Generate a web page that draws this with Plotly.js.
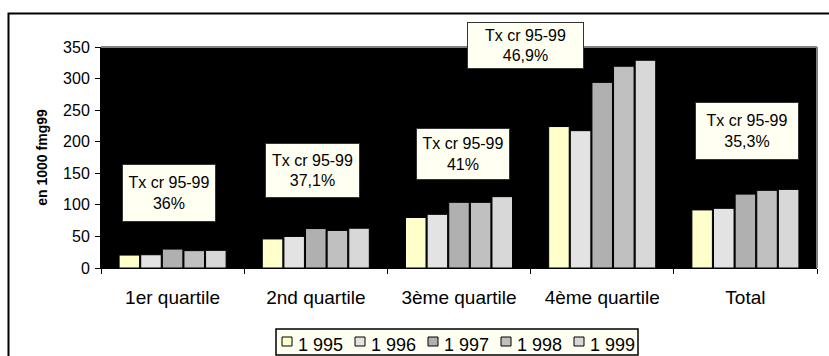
<!DOCTYPE html>
<html>
<head>
<meta charset="utf-8">
<script src="https://cdn.plot.ly/plotly-3.0.1.min.js"></script>
<style>
  html, body { margin: 0; padding: 0; background: #ffffff; }
  #chart { width: 829px; height: 356px; }
</style>
</head>
<body>
<div id="chart"></div>
<script>
// Income groups and yearly values (thousand fmg, 1999 prices)
const categories = ['1er quartile', '2nd quartile', '3ème quartile', '4ème quartile', 'Total'];
const years = ['1 995', '1 996', '1 997', '1 998', '1 999'];
const v1995 = [20.5, 46, 80, 224, 92];
const v1996 = [21, 50, 85, 217.5, 94.5];
const v1997 = [30, 62.5, 104, 294, 117];
const v1998 = [27.5, 59.5, 104, 319.5, 123];
const v1999 = [28, 63, 113, 329, 124.5];
const growth = ['36%', '37,1%', '41%', '46,9%', '35,3%'];
const yTicks = [0, 50, 100, 150, 200, 250, 300, 350];

const series = [v1995, v1996, v1997, v1998, v1999];
const fills = ['#FFFFCC', '#E3E3E3', '#B0B0B0', '#C0C0C0', '#D8D8D8'];
const FONT = 'Liberation Sans, Arial, Helvetica, sans-serif';

// Figure geometry (pixels)
const W = 829, H = 356;
const M = { l: 101, r: 12, t: 47, b: 88 };
const plotW = W - M.l - M.r, plotH = H - M.t - M.b;
const px2x = px => (px - M.l) / plotW;
const px2y = py => (H - M.b - py) / plotH;

const traces = series.map((vals, i) => ({
  type: 'bar',
  name: years[i],
  x: categories,
  y: vals,
  marker: { color: fills[i], line: { color: '#000000', width: 1 } },
  showlegend: false,
  hoverinfo: 'skip'
}));

// Growth-rate callouts: anchor category, horizontal nudge, vertical centre (px), box size
const callouts = [
  { cat: 0, dx: -4, yc: 193, w: 92, h: 56 },
  { cat: 1, dx: -3, yc: 170, w: 93, h: 53 },
  { cat: 2, dx: 4,  yc: 154, w: 92, h: 50 },
  { cat: 2, dx: 66, yc: 45,  w: 115, h: 45 },
  { cat: 4, dx: 2,  yc: 131, w: 102, h: 56 }
];

const annotations = callouts.map((c, i) => ({
  xref: 'x', yref: 'paper',
  x: categories[c.cat], y: px2y(c.yc),
  xshift: c.dx,
  xanchor: 'center', yanchor: 'middle',
  text: 'Tx cr 95-99<br>' + growth[i],
  showarrow: false,
  align: 'center', valign: 'middle',
  width: c.w, height: c.h,
  bgcolor: '#FFFFF2',
  bordercolor: '#333333', borderwidth: 1, borderpad: 0,
  font: { family: FONT, size: 16, color: '#000000' }
}));

// Legend row below the plot: framed box, one swatch + label per year
const LEG = { left: 276, right: 638, top: 329, bottom: 355, first: 282, step: 73,
              swW: 10, swTop: 337, swBottom: 346, textGap: 5, textMid: 345 };
const shapes = [
  // plot frame: grey top and right edges
  { type: 'line', xref: 'paper', yref: 'paper', x0: 0, x1: 1, y0: 1, y1: 1,
    line: { color: '#808080', width: 2 } },
  { type: 'line', xref: 'paper', yref: 'paper', x0: 1, x1: 1, y0: 0, y1: 1,
    line: { color: '#808080', width: 2 } },
  // outer chart frame (left and top)
  { type: 'path', xref: 'paper', yref: 'paper',
    path: `M ${px2x(8.5)} ${px2y(H + 5)} L ${px2x(8.5)} ${px2y(13.5)} L ${px2x(W + 5)} ${px2y(13.5)}`,
    line: { color: '#000000', width: 2 } },
  // legend box
  { type: 'rect', xref: 'paper', yref: 'paper',
    x0: px2x(LEG.left), x1: px2x(LEG.right), y0: px2y(LEG.bottom), y1: px2y(LEG.top),
    fillcolor: '#FFFFF2', line: { color: '#000000', width: 1.5 } }
];
years.forEach((name, i) => {
  const sx = LEG.first + i * LEG.step;
  shapes.push({ type: 'rect', xref: 'paper', yref: 'paper',
    x0: px2x(sx), x1: px2x(sx + LEG.swW), y0: px2y(LEG.swBottom), y1: px2y(LEG.swTop),
    fillcolor: fills[i], line: { color: '#000000', width: 1 } });
  annotations.push({ xref: 'paper', yref: 'paper',
    x: px2x(sx + LEG.swW + LEG.textGap), y: px2y(LEG.textMid),
    xanchor: 'left', yanchor: 'middle', showarrow: false,
    text: name, borderpad: 0,
    font: { family: FONT, size: 18, color: '#000000' } });
});

const layout = {
  width: W,
  height: H,
  margin: { l: M.l, r: M.r, t: M.t, b: M.b, pad: 0 },
  paper_bgcolor: '#ffffff',
  plot_bgcolor: '#000000',
  barmode: 'group',
  bargap: 0.245,
  bargroupgap: 0.05,
  showlegend: false,
  font: { family: FONT, size: 16, color: '#000000' },
  xaxis: {
    type: 'category',
    showgrid: false,
    zeroline: false,
    showline: true, linecolor: '#000000', linewidth: 1,
    ticks: 'outside', tickson: 'boundaries', ticklen: 5, tickcolor: '#000000',
    ticklabelstandoff: 12,
    tickfont: { family: FONT, size: 19, color: '#000000' }
  },
  yaxis: {
    range: [0, 350],
    tickvals: yTicks,
    ticktext: yTicks.map(String),
    showgrid: false,
    zeroline: false,
    showline: true, linecolor: '#000000', linewidth: 1,
    ticks: 'outside', ticklen: 5, tickcolor: '#000000',
    ticklabelstandoff: 2,
    tickfont: { family: FONT, size: 16, color: '#000000' },
    title: { text: 'en 1000 fmg99', standoff: 12,
             font: { family: FONT, size: 14, color: '#000000', weight: 'bold' } }
  },
  shapes: shapes,
  annotations: annotations
};

Plotly.newPlot('chart', traces, layout, { staticPlot: true, displayModeBar: false });
</script>
</body>
</html>
